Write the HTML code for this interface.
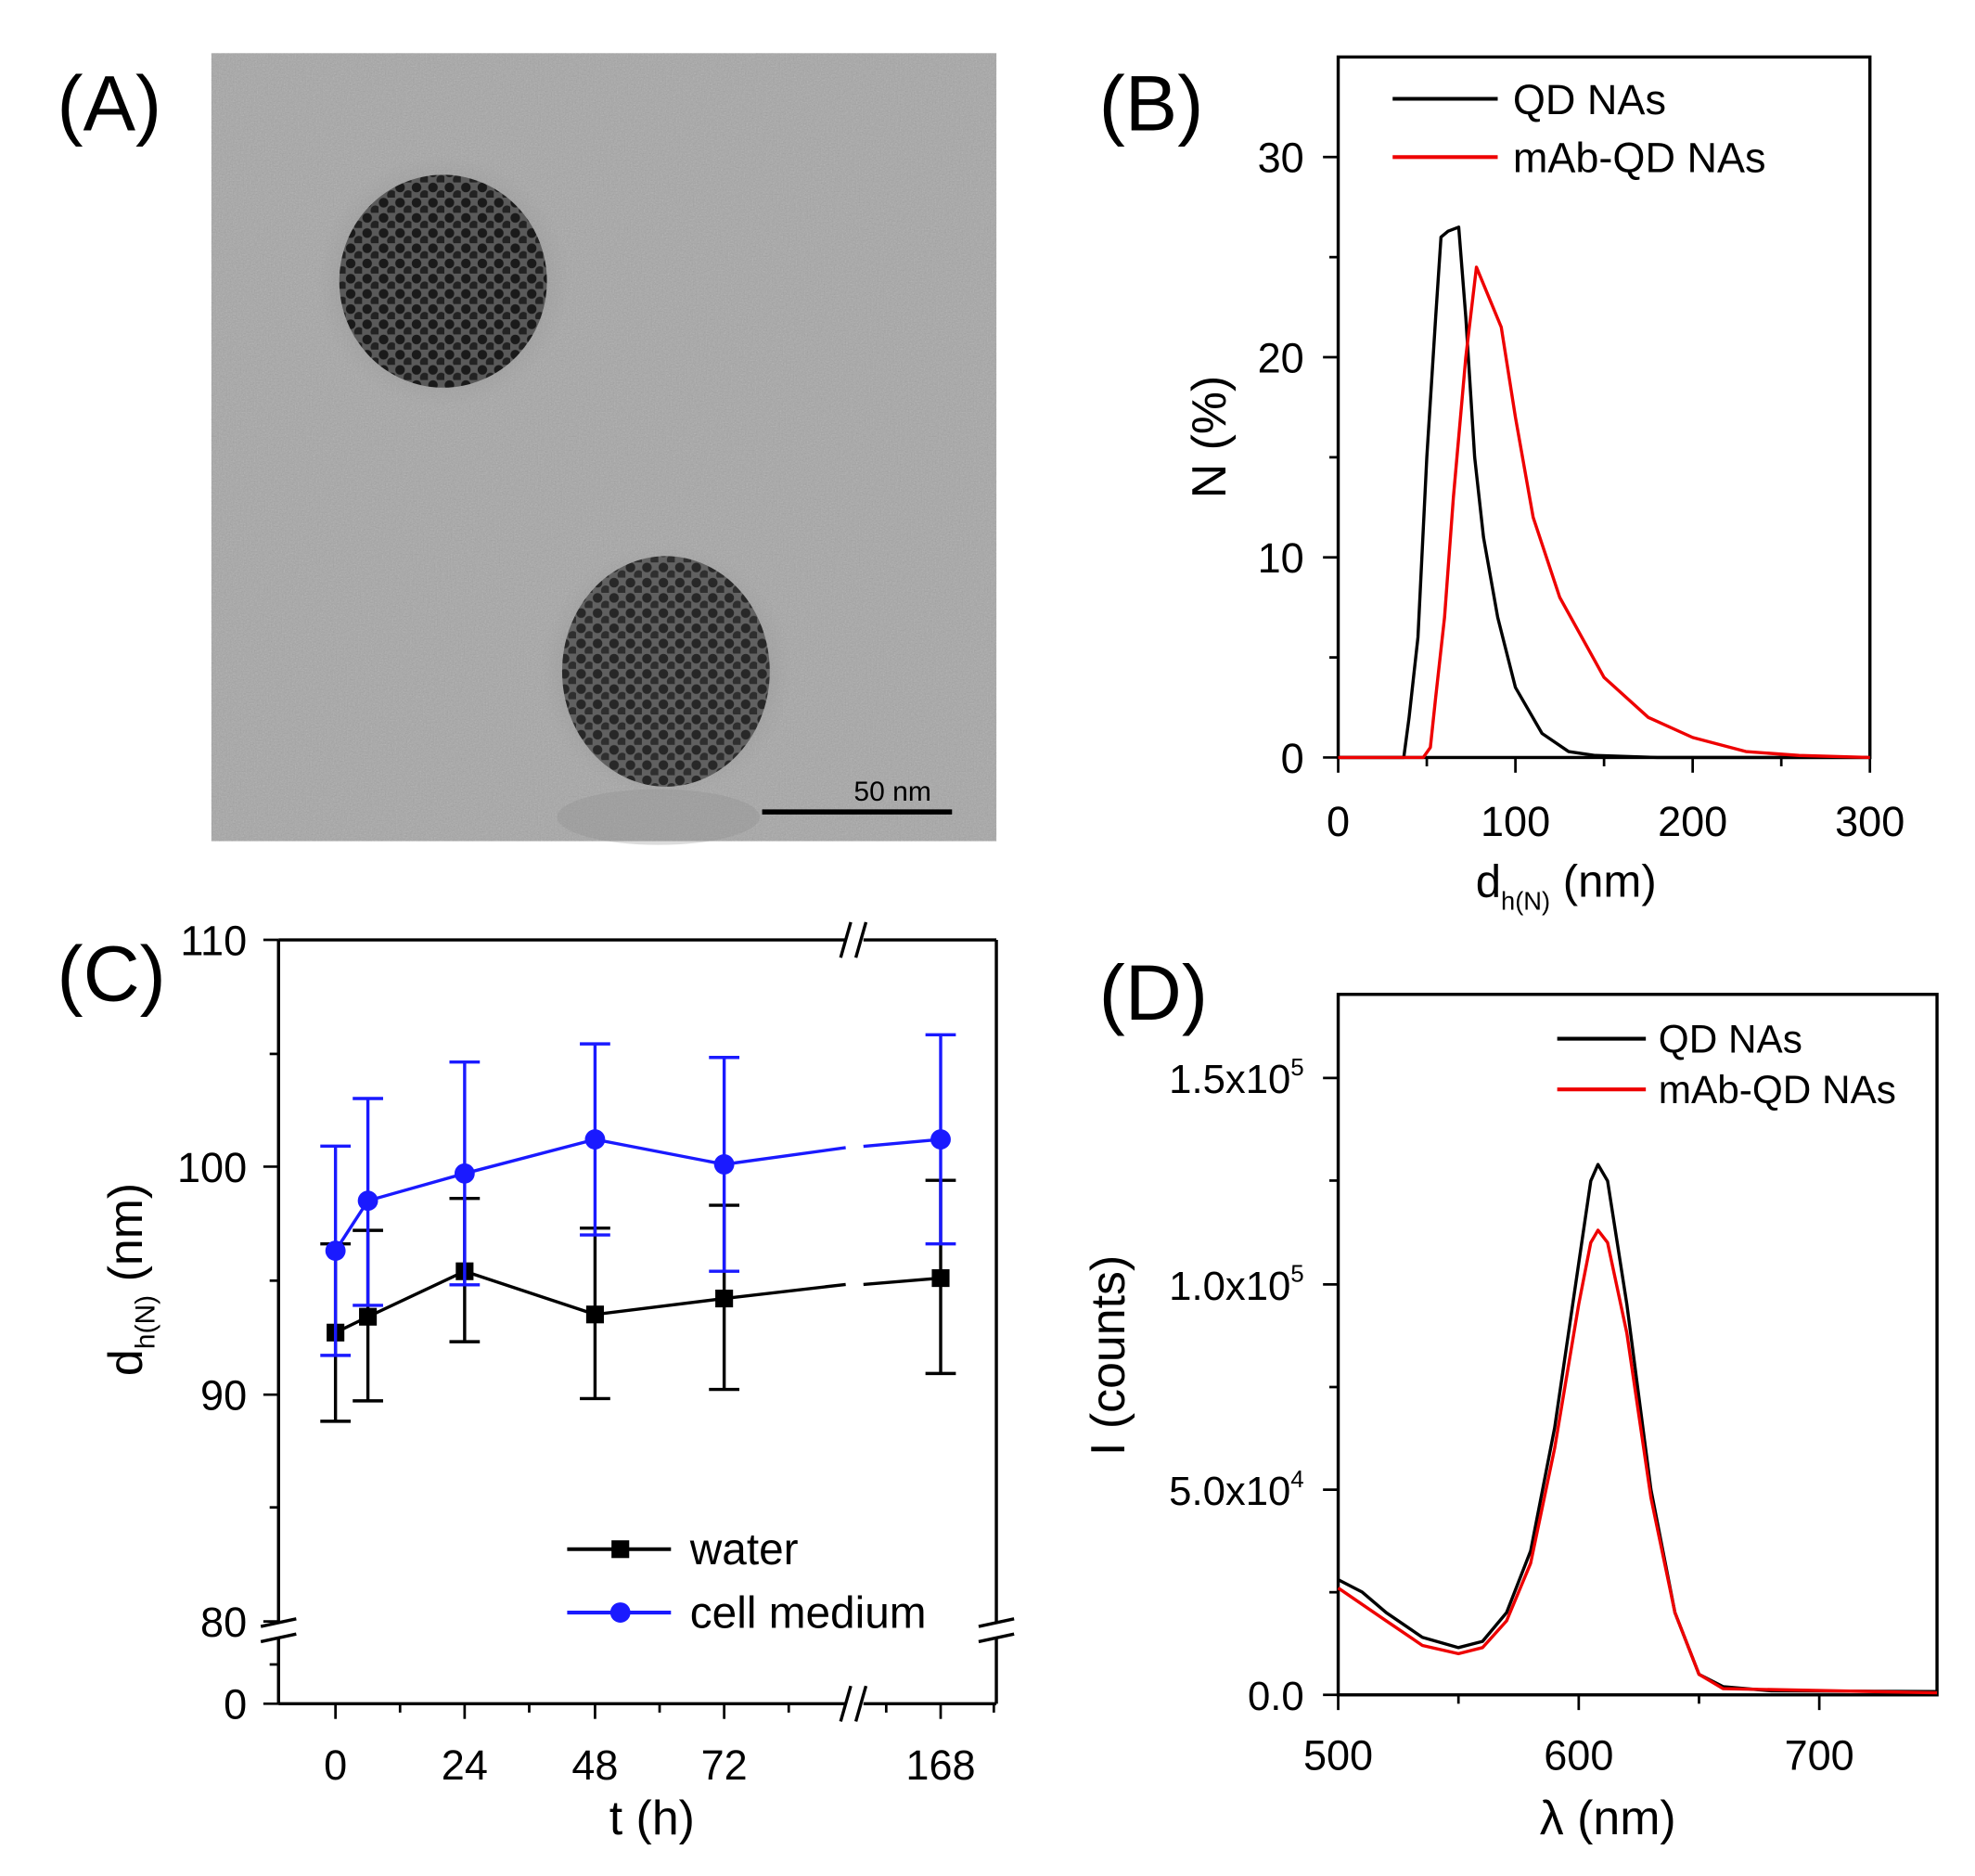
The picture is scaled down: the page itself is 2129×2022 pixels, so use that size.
<!DOCTYPE html>
<html><head><meta charset="utf-8"><style>
html,body{margin:0;padding:0;background:#fff;}
svg{display:block;}
text{font-family:"Liberation Sans",Arial,sans-serif;fill:#000;}
</style></head><body>
<svg width="2129" height="2022" viewBox="0 0 1560 1481" preserveAspectRatio="none" xmlns="http://www.w3.org/2000/svg">
<defs>
<filter id="noise" x="0" y="0" width="100%" height="100%">
<feTurbulence type="fractalNoise" baseFrequency="0.9" numOctaves="2" seed="3" result="n"/>
<feColorMatrix type="saturate" values="0"/>
<feComponentTransfer><feFuncA type="linear" slope="0.35"/></feComponentTransfer>
</filter>
<pattern id="dots" width="13" height="12" patternUnits="userSpaceOnUse">
<rect width="13" height="12" fill="#5a5a5a"/>
<circle cx="4" cy="4" r="3.8" fill="#1a1a1a"/>
<circle cx="10.5" cy="10" r="3.8" fill="#222"/>
</pattern>
<radialGradient id="halo"><stop offset="0.6" stop-color="#888" stop-opacity="0.6"/><stop offset="1" stop-color="#999" stop-opacity="0"/></radialGradient>
</defs>

<!-- Panel A -->
<rect x="167" y="42" width="620" height="622" fill="#a6a6a6"/>
<rect x="167" y="42" width="620" height="622" filter="url(#noise)"/>
<ellipse cx="520" cy="645" rx="80" ry="22" fill="#8a8a8a" opacity="0.3"/>
<circle cx="350" cy="222" r="100" fill="url(#halo)"/>
<ellipse cx="350" cy="222" rx="82" ry="84" fill="url(#dots)"/>
<circle cx="526" cy="530" r="100" fill="url(#halo)"/>
<ellipse cx="526" cy="530" rx="82" ry="91" fill="url(#dots)" opacity="0.9"/>
<line x1="602" y1="641" x2="752" y2="641" stroke="#000" stroke-width="4"/>
<text x="705" y="632" font-size="22" text-anchor="middle">50 nm</text>
<text x="45" y="103" font-size="62">(A)</text>

<!-- Panel B -->
<text x="868" y="103" font-size="62">(B)</text>
<rect x="1057" y="45" width="420" height="553" fill="none" stroke="#000" stroke-width="2.5"/>
<g stroke="#000" stroke-width="2">
<line x1="1045" y1="598" x2="1057" y2="598"/><line x1="1045" y1="440" x2="1057" y2="440"/><line x1="1045" y1="282" x2="1057" y2="282"/><line x1="1045" y1="124" x2="1057" y2="124"/>
<line x1="1050" y1="519" x2="1057" y2="519"/><line x1="1050" y1="361" x2="1057" y2="361"/><line x1="1050" y1="203" x2="1057" y2="203"/>
<line x1="1057" y1="598" x2="1057" y2="610"/><line x1="1197" y1="598" x2="1197" y2="610"/><line x1="1337" y1="598" x2="1337" y2="610"/><line x1="1477" y1="598" x2="1477" y2="610"/>
<line x1="1127" y1="598" x2="1127" y2="605"/><line x1="1267" y1="598" x2="1267" y2="605"/><line x1="1407" y1="598" x2="1407" y2="605"/>
</g>
<g font-size="33" text-anchor="end">
<text x="1030" y="610">0</text><text x="1030" y="452">10</text><text x="1030" y="294">20</text><text x="1030" y="136">30</text>
</g>
<g font-size="33" text-anchor="middle">
<text x="1057" y="660">0</text><text x="1197" y="660">100</text><text x="1337" y="660">200</text><text x="1477" y="660">300</text>
</g>
<text x="1237" y="708" font-size="36" text-anchor="middle">d<tspan font-size="20" dy="10">h(N)</tspan><tspan dy="-10"> (nm)</tspan></text>
<text transform="translate(968,345) rotate(-90)" font-size="38" text-anchor="middle">N (%)</text>
<line x1="1100" y1="78" x2="1183" y2="78" stroke="#000" stroke-width="3"/>
<text x="1195" y="90" font-size="33">QD NAs</text>
<line x1="1100" y1="124" x2="1183" y2="124" stroke="#e00" stroke-width="3"/>
<text x="1195" y="136" font-size="33">mAb-QD NAs</text>
<polyline fill="none" stroke="#000" stroke-width="2.5" stroke-linejoin="round" points="1057,598 1108.8,598 1113,566.4 1120,503.2 1127,361 1134,250.4 1138.2,187.2 1143.8,182.5 1152.2,179.3 1157.8,250.4 1164.8,361 1171.8,424.2 1183,487.4 1197,542.7 1218,579 1239,593.3 1260,596.4 1309,598 1477,598"/>
<polyline fill="none" stroke="#e00" stroke-width="2.5" stroke-linejoin="round" points="1057,598 1124.2,598 1129.8,590.1 1134,550.6 1141,487.4 1148,392.6 1157.8,282 1166.2,210.9 1176,234.6 1185.8,258.3 1197,329.4 1211,408.4 1232,471.6 1267,534.8 1302,566.4 1337,582.2 1379,593.3 1421,596.4 1477,598"/>

<!-- Panel C -->
<text x="45" y="790" font-size="62">(C)</text>
<g stroke="#000" stroke-width="2.5" fill="none">
<line x1="220" y1="742" x2="668" y2="742"/><line x1="682" y1="742" x2="787" y2="742"/>
<line x1="220" y1="1345" x2="668" y2="1345"/><line x1="682" y1="1345" x2="787" y2="1345"/>
<line x1="220" y1="742" x2="220" y2="1280"/><line x1="220" y1="1292" x2="220" y2="1345"/>
<line x1="787" y1="742" x2="787" y2="1280"/><line x1="787" y1="1292" x2="787" y2="1345"/>
</g>
<g stroke="#000" stroke-width="2.5">
<line x1="664" y1="756" x2="672" y2="728"/><line x1="676" y1="756" x2="684" y2="728"/>
<line x1="664" y1="1359" x2="672" y2="1331"/><line x1="676" y1="1359" x2="684" y2="1331"/>
<line x1="206" y1="1284" x2="234" y2="1278"/><line x1="206" y1="1296" x2="234" y2="1290"/>
<line x1="773" y1="1284" x2="801" y2="1278"/><line x1="773" y1="1296" x2="801" y2="1290"/>
</g>
<g stroke="#000" stroke-width="2">
<line x1="208" y1="742" x2="220" y2="742"/><line x1="208" y1="921" x2="220" y2="921"/><line x1="208" y1="1101" x2="220" y2="1101"/><line x1="208" y1="1280" x2="220" y2="1280"/><line x1="208" y1="1345" x2="220" y2="1345"/>
<line x1="213" y1="832" x2="220" y2="832"/><line x1="213" y1="1011" x2="220" y2="1011"/><line x1="213" y1="1190" x2="220" y2="1190"/><line x1="213" y1="1314" x2="220" y2="1314"/>
<line x1="265" y1="1345" x2="265" y2="1357"/><line x1="367" y1="1345" x2="367" y2="1357"/><line x1="470" y1="1345" x2="470" y2="1357"/><line x1="572" y1="1345" x2="572" y2="1357"/><line x1="743" y1="1345" x2="743" y2="1357"/>
<line x1="316" y1="1345" x2="316" y2="1352"/><line x1="418" y1="1345" x2="418" y2="1352"/><line x1="521" y1="1345" x2="521" y2="1352"/><line x1="623" y1="1345" x2="623" y2="1352"/><line x1="700" y1="1345" x2="700" y2="1352"/><line x1="785" y1="1345" x2="785" y2="1352"/>
</g>
<g font-size="33" text-anchor="end">
<text x="195" y="754">110</text><text x="195" y="933">100</text><text x="195" y="1113">90</text><text x="195" y="1292">80</text><text x="195" y="1357">0</text>
</g>
<g font-size="33" text-anchor="middle">
<text x="265" y="1405">0</text><text x="367" y="1405">24</text><text x="470" y="1405">48</text><text x="572" y="1405">72</text><text x="743" y="1405">168</text>
</g>
<text x="515" y="1448" font-size="38" text-anchor="middle">t (h)</text>
<text transform="translate(112,1010) rotate(-90)" font-size="38" text-anchor="middle">d<tspan font-size="22" dy="10">h(N)</tspan><tspan dy="-10"> (nm)</tspan></text>
<g stroke="#000" stroke-width="2.5">
<line x1="265" y1="982" x2="265" y2="1122"/><line x1="253" y1="982" x2="277" y2="982"/><line x1="253" y1="1122" x2="277" y2="1122"/>
<line x1="290.6" y1="971.3" x2="290.6" y2="1105.9"/><line x1="278.6" y1="971.3" x2="302.6" y2="971.3"/><line x1="278.6" y1="1105.9" x2="302.6" y2="1105.9"/>
<line x1="367" y1="946.1" x2="367" y2="1059.2"/><line x1="355" y1="946.1" x2="379" y2="946.1"/><line x1="355" y1="1059.2" x2="379" y2="1059.2"/>
<line x1="470" y1="969.5" x2="470" y2="1104.1"/><line x1="458" y1="969.5" x2="482" y2="969.5"/><line x1="458" y1="1104.1" x2="482" y2="1104.1"/>
<line x1="572" y1="951.5" x2="572" y2="1096.9"/><line x1="560" y1="951.5" x2="584" y2="951.5"/><line x1="560" y1="1096.9" x2="584" y2="1096.9"/>
<line x1="743" y1="931.8" x2="743" y2="1084.3"/><line x1="731" y1="931.8" x2="755" y2="931.8"/><line x1="731" y1="1084.3" x2="755" y2="1084.3"/>
</g>
<polyline fill="none" stroke="#000" stroke-width="2.5" points="265,1052 290.6,1039.5 367,1003.6 470,1037.7 572,1025.1 668,1014"/>
<line x1="682" y1="1014" x2="743" y2="1009" stroke="#000" stroke-width="2.5"/>
<g fill="#000">
<rect x="258" y="1045" width="14" height="14"/><rect x="283.6" y="1032.5" width="14" height="14"/><rect x="360" y="996.6" width="14" height="14"/><rect x="463" y="1030.7" width="14" height="14"/><rect x="565" y="1018.1" width="14" height="14"/><rect x="736" y="1002" width="14" height="14"/>
</g>
<g stroke="#1a1aff" stroke-width="2.5">
<line x1="265" y1="904.8" x2="265" y2="1070"/><line x1="253" y1="904.8" x2="277" y2="904.8"/><line x1="253" y1="1070" x2="277" y2="1070"/>
<line x1="290.6" y1="867.2" x2="290.6" y2="1030.5"/><line x1="278.6" y1="867.2" x2="302.6" y2="867.2"/><line x1="278.6" y1="1030.5" x2="302.6" y2="1030.5"/>
<line x1="367" y1="838.4" x2="367" y2="1014.3"/><line x1="355" y1="838.4" x2="379" y2="838.4"/><line x1="355" y1="1014.3" x2="379" y2="1014.3"/>
<line x1="470" y1="824.1" x2="470" y2="974.9"/><line x1="458" y1="824.1" x2="482" y2="824.1"/><line x1="458" y1="974.9" x2="482" y2="974.9"/>
<line x1="572" y1="834.8" x2="572" y2="1003.6"/><line x1="560" y1="834.8" x2="584" y2="834.8"/><line x1="560" y1="1003.6" x2="584" y2="1003.6"/>
<line x1="743" y1="816.9" x2="743" y2="982"/><line x1="731" y1="816.9" x2="755" y2="816.9"/><line x1="731" y1="982" x2="755" y2="982"/>
</g>
<polyline fill="none" stroke="#1a1aff" stroke-width="2.5" points="265,987.4 290.6,947.9 367,926.4 470,899.5 572,919.2 668,906"/>
<line x1="682" y1="905" x2="743" y2="899.5" stroke="#1a1aff" stroke-width="2.5"/>
<g fill="#1a1aff">
<circle cx="265" cy="987.4" r="8"/><circle cx="290.6" cy="947.9" r="8"/><circle cx="367" cy="926.4" r="8"/><circle cx="470" cy="899.5" r="8"/><circle cx="572" cy="919.2" r="8"/><circle cx="743" cy="899.5" r="8"/>
</g>
<line x1="448" y1="1223" x2="530" y2="1223" stroke="#000" stroke-width="3"/>
<rect x="483" y="1216" width="14" height="14" fill="#000"/>
<text x="545" y="1235" font-size="35">water</text>
<line x1="448" y1="1273" x2="530" y2="1273" stroke="#1a1aff" stroke-width="3"/>
<circle cx="490" cy="1273" r="8" fill="#1a1aff"/>
<text x="545" y="1285" font-size="35">cell medium</text>

<!-- Panel D -->
<text x="868" y="805" font-size="62">(D)</text>
<rect x="1057" y="785" width="473" height="553" fill="none" stroke="#000" stroke-width="2.5"/>
<g stroke="#000" stroke-width="2">
<line x1="1045" y1="1338" x2="1057" y2="1338"/><line x1="1045" y1="1176" x2="1057" y2="1176"/><line x1="1045" y1="1014" x2="1057" y2="1014"/><line x1="1045" y1="851" x2="1057" y2="851"/>
<line x1="1050" y1="1257" x2="1057" y2="1257"/><line x1="1050" y1="1095" x2="1057" y2="1095"/><line x1="1050" y1="932" x2="1057" y2="932"/>
<line x1="1057" y1="1338" x2="1057" y2="1350"/><line x1="1247" y1="1338" x2="1247" y2="1350"/><line x1="1437" y1="1338" x2="1437" y2="1350"/>
<line x1="1152" y1="1338" x2="1152" y2="1345"/><line x1="1342" y1="1338" x2="1342" y2="1345"/>
</g>
<g font-size="32" text-anchor="end">
<text x="1030" y="1350">0.0</text>
<text x="1030" y="1188">5.0x10<tspan font-size="19" dy="-14">4</tspan></text>
<text x="1030" y="1026">1.0x10<tspan font-size="19" dy="-14">5</tspan></text>
<text x="1030" y="863">1.5x10<tspan font-size="19" dy="-14">5</tspan></text>
</g>
<g font-size="33" text-anchor="middle">
<text x="1057" y="1397">500</text><text x="1247" y="1397">600</text><text x="1437" y="1397">700</text>
</g>
<text x="1270" y="1448" font-size="38" text-anchor="middle">λ (nm)</text>
<text transform="translate(888,1070) rotate(-90)" font-size="38" text-anchor="middle">I (counts)</text>
<line x1="1230" y1="820" x2="1300" y2="820" stroke="#000" stroke-width="3"/>
<text x="1310" y="831" font-size="31">QD NAs</text>
<line x1="1230" y1="860" x2="1300" y2="860" stroke="#e00" stroke-width="3"/>
<text x="1310" y="871" font-size="31">mAb-QD NAs</text>
<polyline fill="none" stroke="#000" stroke-width="2.5" stroke-linejoin="round" points="1057,1247.1 1076,1256.9 1095,1273.1 1123.5,1292.6 1152,1300.7 1171,1295.8 1190,1273.1 1209,1224.4 1228,1127 1247,997.2 1256.5,932.3 1262.2,919.3 1269.8,932.3 1285,1029.6 1304,1175.7 1323,1273.1 1342,1321.8 1361,1331.5 1399,1334.8 1530,1335.4"/>
<polyline fill="none" stroke="#e00" stroke-width="2.5" stroke-linejoin="round" points="1057,1253.6 1095,1279.6 1123.5,1299 1152,1305.5 1171,1300.7 1190,1279.6 1209,1234.1 1228,1143.2 1247,1029.6 1256.5,981 1262.2,971.2 1269.8,981 1285,1052.4 1304,1182.2 1323,1273.1 1342,1321.8 1361,1333.1 1530,1336.4"/>
</svg>
</body></html>
